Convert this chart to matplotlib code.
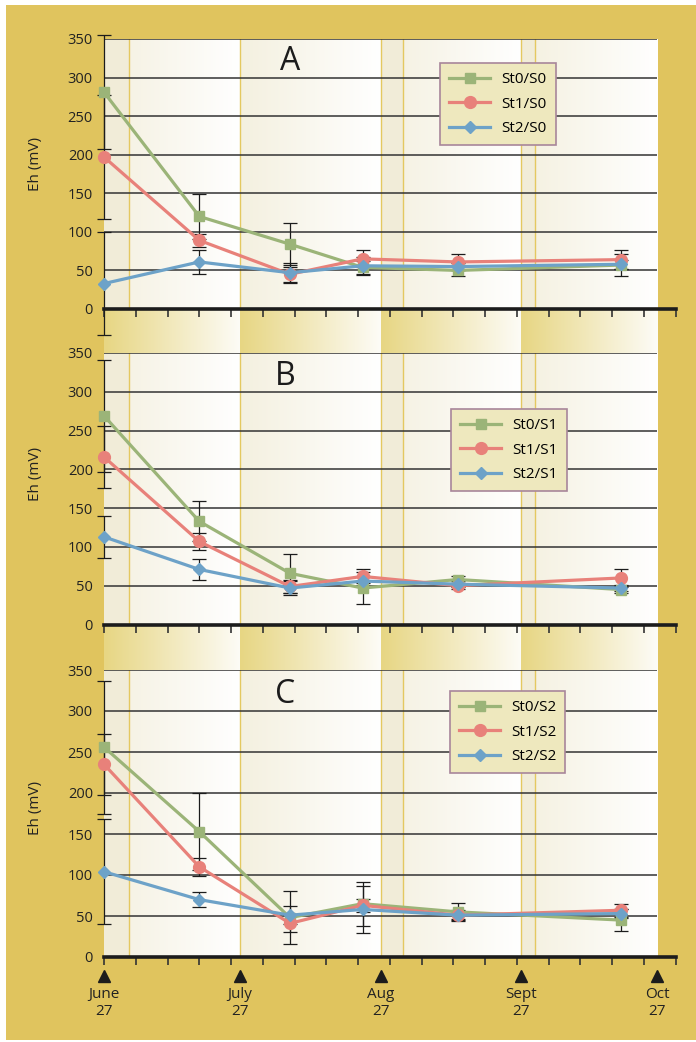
import numpy as np
import matplotlib
matplotlib.use('Agg')
import matplotlib.pyplot as plt
from matplotlib.colors import to_rgb
from matplotlib.patches import Rectangle
from matplotlib.transforms import blended_transform_factory, ScaledTranslation

plt.rcParams['font.family'] = ['Open Sans', 'DejaVu Sans']

# ---------------- data ----------------
days = [0, 21, 41, 57, 78, 114]          # days after June 27

# Panel A (S0)
st0_s0 = [281, 120, 84, 54, 50, 57]
st1_s0 = [197, 89, 45, 65, 61, 64]
st2_s0 = [33, 61, 47, 56, 55, 58]
err_st0_s0 = [74, 29, 27, 8, 7, 14]
err_st1_s0 = [80, 8, 10, 11, 10, 12]
err_st2_s0 = [67, 16, 13, 12, 5, 6]

# Panel B (S1)
st0_s1 = [269, 133, 66, 47, 58, 45]
st1_s1 = [216, 107, 49, 62, 50, 60]
st2_s1 = [113, 71, 47, 56, 52, 47]
err_st0_s1 = [72, 26, 25, 21, 5, 4]
err_st1_s1 = [40, 11, 8, 9, 4, 12]
err_st2_s1 = [27, 13, 9, 6, 4, 4]

# Panel C (S2)
st0_s2 = [256, 153, 48, 65, 55, 45]
st1_s2 = [235, 110, 41, 63, 51, 57]
st2_s2 = [104, 70, 51, 58, 51, 53]
err_st0_s2 = [81, 47, 32, 27, 11, 13]
err_st1_s2 = [37, 11, 10, 8, 6, 8]
err_st2_s2 = [64, 9, 11, 29, 5, 5]

panel_letters = ['A', 'B', 'C']
legend_labels = [['St0/S0', 'St1/S0', 'St2/S0'],
                 ['St0/S1', 'St1/S1', 'St2/S1'],
                 ['St0/S2', 'St1/S2', 'St2/S2']]
month_days = [0, 30, 61, 92, 122]
month_labels = ['June\n27', 'July\n27', 'Aug\n27', 'Sept\n27', 'Oct\n27']
event_spans = [(0, 5.5), (61, 66), (92, 95)]
week_ticks = list(range(0, 127, 7))
y_ticks = [0, 50, 100, 150, 200, 250, 300, 350]

# ---------------- style ----------------
GOLD = '#E0C45E'
C_ST0 = '#9BB478'
C_ST1 = '#E8817A'
C_ST2 = '#6DA2C8'
TAN = '#F1ECD8'
GRAD_START = '#F4F0DF'
STRIP_START = '#E7D683'
LINE_GOLD = '#E4C860'
DARK = '#1c1c1c'

W, H = 696, 1042
X0, X1 = 104, 675.5   # pixel positions of day 0 and day 126
panels_px = [(39, 309), (353, 624.5), (670, 957)]
strips_px = [(309, 353), (624.5, 670)]

def rect(left, top, right, bottom):
    return [left / W, 1 - bottom / H, (right - left) / W, (bottom - top) / H]

def gradient(c0, c1, n=256):
    a = np.array(to_rgb(c0)); b = np.array(to_rgb(c1))
    t = np.linspace(0, 1, n)[:, None]
    return (a + (b - a) * t)[None, :, :]

fig = plt.figure(figsize=(W / 100, H / 100), dpi=100)
fig.patch.set_facecolor('white')

bg = fig.add_axes([0, 0, 1, 1], zorder=0)
bg.set_xlim(0, W); bg.set_ylim(H, 0); bg.axis('off')
bg.add_patch(Rectangle((6, 5), W - 6, 1035, color=GOLD, lw=0))

# strips between panels
for (t, b) in strips_px:
    sa = fig.add_axes(rect(X0, t, X1, b), zorder=1)
    for m0, m1 in zip(month_days[:-1], month_days[1:]):
        sa.imshow(gradient(STRIP_START, '#FDFCF7'), extent=[m0, m1, 0, 1],
                  aspect='auto', interpolation='bilinear')
    sa.set_xlim(0, 126); sa.set_ylim(0, 1); sa.axis('off')

series_sets = [
    (st0_s0, st1_s0, st2_s0, err_st0_s0, err_st1_s0, err_st2_s0),
    (st0_s1, st1_s1, st2_s1, err_st0_s1, err_st1_s1, err_st2_s1),
    (st0_s2, st1_s2, st2_s2, err_st0_s2, err_st1_s2, err_st2_s2),
]
legend_anchor = [(0.588, 0.911), (0.607, 0.794), (0.605, 0.927)]
letter_pos = [(0.3255, 0.915), (0.317, 0.915), (0.317, 0.913)]
ylabel_y = [0.537, 0.554, 0.519]

axes = []
for i, (t, b) in enumerate(panels_px):
    ax = fig.add_axes(rect(X0, t, X1, b), zorder=2)
    ax.set_facecolor('none')
    axes.append(ax)
    # background gradients
    for m0, m1 in zip(month_days[:-1], month_days[1:]):
        ax.imshow(gradient(GRAD_START, '#FFFFFF'), extent=[m0, m1, 0, 350],
                  aspect='auto', interpolation='bilinear', zorder=0)
    for a, c in event_spans:
        ax.axvspan(a, c, color=TAN, lw=0, zorder=0.5)
    for d in [5.5, 30, 61, 66, 92, 95]:
        ax.axvline(d, color=LINE_GOLD, lw=1.0, zorder=0.6)
    ax.hlines(y_ticks[1:], 0, 122, color='#333333', lw=1.1, zorder=1)

    s0, s1, s2, e0, e1, e2 = series_sets[i]
    for vals, errs in [(s0, e0), (s1, e1), (s2, e2)]:
        eb = ax.errorbar(days, vals, yerr=errs, fmt='none', ecolor=DARK,
                         elinewidth=0.9, capsize=4.7, capthick=0.9, zorder=3)
        for art in list(eb.lines[1]) + list(eb.lines[2]):
            art.set_clip_on(False)
    handles = []
    for vals, col, mk, ms, lab in [
        (s0, C_ST0, 's', 7.5, legend_labels[i][0]),
        (s1, C_ST1, 'o', 8.5, legend_labels[i][1]),
        (s2, C_ST2, 'D', 6.5, legend_labels[i][2])]:
        ln, = ax.plot(days, vals, color=col, lw=2.3, marker=mk, ms=ms,
                      mec=col, zorder=4, clip_on=False, label=lab)
        handles.append(ln)

    ax.set_xlim(0, 126)
    ax.set_ylim(0, 350)
    for sp in ['top', 'right', 'left']:
        ax.spines[sp].set_visible(False)
    ax.spines['bottom'].set_linewidth(2.6)
    ax.spines['bottom'].set_color(DARK)
    ax.spines['bottom'].set_zorder(5)
    ax.set_xticks(week_ticks)
    ax.set_xticklabels([])
    ax.tick_params(axis='x', direction='out', length=6, width=1.2, color='#333333')
    ax.set_yticks(y_ticks)
    ax.tick_params(axis='y', length=0, pad=8, labelsize=10.5, labelcolor='#222222')
    ax.set_ylabel('Eh (mV)', fontsize=11, color='#222222')
    ax.yaxis.set_label_coords(-0.106, ylabel_y[i])

    leg = ax.legend(handles=handles, loc='upper left', bbox_to_anchor=legend_anchor[i],
                    frameon=True, fancybox=False, framealpha=1, facecolor='#EEE8BE',
                    edgecolor='#A8869A', fontsize=11, handlelength=2.7,
                    handletextpad=0.7, labelspacing=0.62, borderpad=0.6,
                    borderaxespad=0)
    leg.get_frame().set_linewidth(1.2)
    leg.set_zorder(6)

    ax.text(letter_pos[i][0], letter_pos[i][1], panel_letters[i], transform=ax.transAxes,
            ha='center', va='center', fontsize=23, color=DARK, zorder=6)

axC = axes[2]
trans = blended_transform_factory(axC.transData, axC.transAxes)
tri_off = ScaledTranslation(0, -19 / 100, fig.dpi_scale_trans)
axC.plot(month_days, [0] * len(month_days), ls='none', marker='^', ms=9,
         color=DARK, transform=trans + tri_off, clip_on=False)
for d, lab in zip(month_days, month_labels):
    axC.annotate(lab, xy=(d, 0), xycoords=trans, xytext=(0, -21.5),
                 textcoords='offset points', ha='center', va='top',
                 fontsize=11, color='#222222', linespacing=1.15)

fig.savefig('out.png', dpi=100)
